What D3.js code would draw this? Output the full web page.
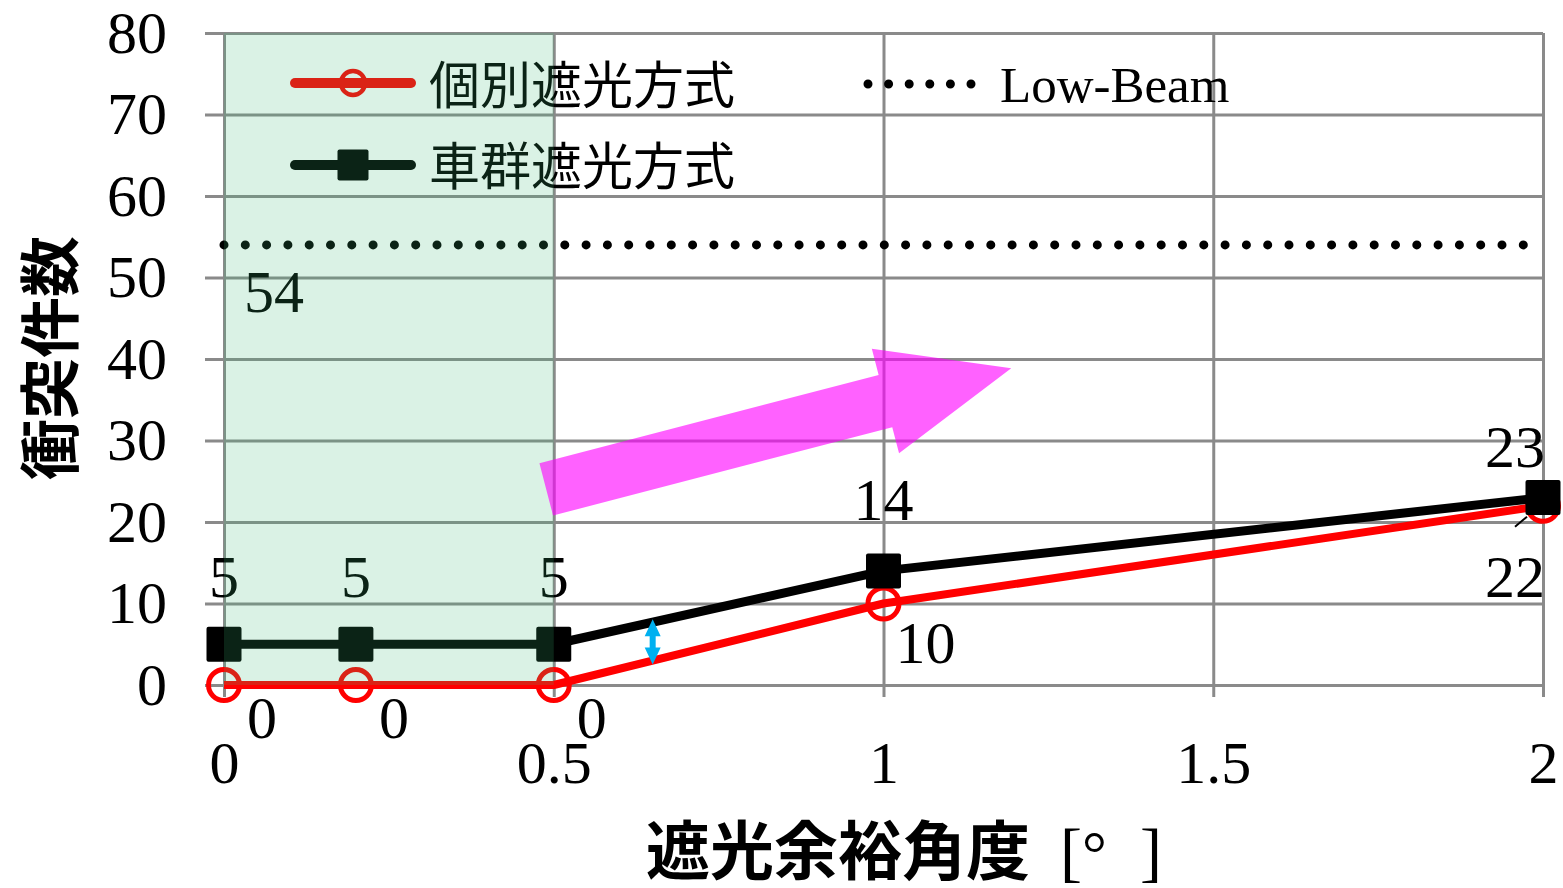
<!DOCTYPE html>
<html>
<head>
<meta charset="utf-8">
<script src="https://cdn.jsdelivr.net/npm/d3@7"></script>
<style>
  html, body { margin: 0; padding: 0; background: #fff; }
  svg { display: block; }
</style>
</head>
<body>
<svg id="chart" width="1563" height="888"></svg>
<script>
// Shading margin angle (degrees) vs. number of collisions
const angles = [0, 0.2, 0.5, 1, 2];
const individualShading = [0, 0, 0, 10, 22];   // 個別遮光方式
const groupShading = [5, 5, 5, 14, 23];        // 車群遮光方式
const lowBeam = 54;                            // Low-Beam reference
const yTicks = [0, 10, 20, 30, 40, 50, 60, 70, 80];
const xTicks = [0, 0.5, 1, 1.5, 2];
const seriesNames = ["個別遮光方式", "車群遮光方式", "Low-Beam"];
const highlightRange = [0, 0.5];

const SERIF = "'Liberation Serif', 'Times New Roman', serif";
const GOTHIC = "'Noto Sans CJK JP', 'Noto Sans', sans-serif";

const svg = d3.select("#chart");
const x = d3.scaleLinear().domain([0, 2]).range([224, 1543]);
const y = d3.scaleLinear().domain([0, 80]).range([685, 33]);

const gridColor = "#8a8a8a";

// Horizontal gridlines (extend a little to the left of the plot as ticks)
const yAxis = svg.append("g")
  .attr("transform", "translate(205,0)")
  .call(d3.axisLeft(y).tickValues(yTicks).tickFormat(d3.format("d"))
    .tickSizeInner(-(x(2) - 205)).tickSizeOuter(0).tickPadding(38));
yAxis.select(".domain").remove();
yAxis.selectAll(".tick line").attr("stroke", gridColor).attr("stroke-width", 3);
yAxis.selectAll(".tick text").attr("font-family", SERIF).attr("font-size", 60).attr("fill", "#000");

// Vertical gridlines (extend a little below the plot)
const xAxis = svg.append("g")
  .attr("transform", "translate(0,697)")
  .call(d3.axisBottom(x).tickValues(xTicks).tickFormat(d => d3.format("")(d))
    .tickSizeInner(-(697 - y(80))).tickSizeOuter(0).tickPadding(43));
xAxis.select(".domain").remove();
xAxis.selectAll(".tick line").attr("stroke", gridColor).attr("stroke-width", 3);
xAxis.selectAll(".tick text").attr("font-family", SERIF).attr("font-size", 60).attr("fill", "#000");

// Low-Beam dotted reference line
svg.append("line")
  .attr("x1", x(0)).attr("x2", x(2))
  .attr("y1", y(lowBeam)).attr("y2", y(lowBeam))
  .attr("stroke", "#000").attr("stroke-width", 9)
  .attr("stroke-linecap", "round").attr("stroke-dasharray", "0 21.3");

const line = d3.line().x(d => x(d[0])).y(d => y(d[1]));
const redPts = angles.map((a, i) => [a, individualShading[i]]);
const blkPts = angles.map((a, i) => [a, groupShading[i]]);

// Individual shading series: red line with open circles
svg.append("path").datum(redPts).attr("d", line)
  .attr("fill", "none").attr("stroke", "#ff0000").attr("stroke-width", 8)
  .attr("stroke-linejoin", "round");
svg.append("g").selectAll("circle").data(redPts).join("circle")
  .attr("cx", d => x(d[0])).attr("cy", d => y(d[1])).attr("r", 15.5)
  .attr("fill", "none").attr("stroke", "#ff0000").attr("stroke-width", 5);

// Group shading series: black line with filled squares
svg.append("path").datum(blkPts).attr("d", line)
  .attr("fill", "none").attr("stroke", "#000").attr("stroke-width", 9)
  .attr("stroke-linejoin", "round");
svg.append("g").selectAll("rect").data(blkPts).join("rect")
  .attr("x", d => x(d[0]) - 17.5).attr("y", d => y(d[1]) - 17.5)
  .attr("width", 35).attr("height", 35).attr("rx", 2)
  .attr("fill", "#000");

// Value labels
const labels = svg.append("g").attr("font-family", SERIF).attr("font-size", 60).attr("fill", "#000");
blkPts.forEach(d => {
  const last = d[0] === 2;
  labels.append("text")
    .attr("x", last ? x(d[0]) + 2 : x(d[0]))
    .attr("y", y(d[1]) - (last ? 31 : (d[1] > 10 ? 51 : 47)))
    .attr("text-anchor", last ? "end" : "middle")
    .text(d[1]);
});
redPts.forEach(d => {
  const last = d[0] === 2;
  labels.append("text")
    .attr("x", last ? x(d[0]) + 2 : x(d[0]) + (d[1] === 0 ? 38 : 42))
    .attr("y", y(d[1]) + (last ? 91 : (d[1] === 0 ? 53 : 59)))
    .attr("text-anchor", last ? "end" : "middle")
    .text(d[1]);
});
// leader for the last red label
{
  const p = redPts[redPts.length - 1];
  svg.append("line")
    .attr("x1", x(p[0]) - 28).attr("y1", y(p[1]) + 21)
    .attr("x2", x(p[0]) - 16).attr("y2", y(p[1]) + 11)
    .attr("stroke", "#000").attr("stroke-width", 2);
}
labels.append("text").attr("x", x(0.076)).attr("y", y(lowBeam) + 67)
  .attr("text-anchor", "middle").text(lowBeam);

// Legend
const lg = svg.append("g");
lg.append("line").attr("x1", 295).attr("x2", 411).attr("y1", 83).attr("y2", 83)
  .attr("stroke", "#ff0000").attr("stroke-width", 10).attr("stroke-linecap", "round");
lg.append("circle").attr("cx", 353).attr("cy", 83).attr("r", 12)
  .attr("fill", "none").attr("stroke", "#ff0000").attr("stroke-width", 4.5);
lg.append("text").attr("x", 429).attr("y", 82).attr("dominant-baseline", "central")
  .attr("font-family", GOTHIC).attr("font-size", 51).text(seriesNames[0]);

lg.append("line").attr("x1", 295).attr("x2", 411).attr("y1", 165).attr("y2", 165)
  .attr("stroke", "#000").attr("stroke-width", 10).attr("stroke-linecap", "round");
lg.append("rect").attr("x", 353 - 15.5).attr("y", 165 - 15.5).attr("width", 31).attr("height", 31)
  .attr("rx", 2).attr("fill", "#000");
lg.append("text").attr("x", 429).attr("y", 163).attr("dominant-baseline", "central")
  .attr("font-family", GOTHIC).attr("font-size", 51).text(seriesNames[1]);

lg.append("line").attr("x1", 868).attr("x2", 976).attr("y1", 84).attr("y2", 84)
  .attr("stroke", "#000").attr("stroke-width", 9)
  .attr("stroke-linecap", "round").attr("stroke-dasharray", "0 20.6");
lg.append("text").attr("x", 1000).attr("y", 85).attr("dominant-baseline", "central")
  .attr("font-family", SERIF).attr("font-size", 51).text(seriesNames[2]);

// Highlighted angle range (translucent green band over the plot)
svg.append("rect")
  .attr("x", x(highlightRange[0])).attr("y", y(80))
  .attr("width", x(highlightRange[1]) - x(highlightRange[0]))
  .attr("height", y(0) - y(80))
  .attr("fill", "rgb(60,185,115)").attr("fill-opacity", 0.19);

// Trend arrow (magenta block arrow)
{
  const p0 = [x(0.4886), y(24.0)];
  const p1 = [x(1.1937), y(38.86)];
  const L = Math.hypot(p1[0] - p0[0], p1[1] - p0[1]);
  const ang = Math.atan2(p1[1] - p0[1], p1[0] - p0[0]) * 180 / Math.PI;
  const sw = 27, hw = 54, hl = 130;
  const pts = [[0, -sw], [L - hl, -sw], [L - hl, -hw], [L, 0], [L - hl, hw], [L - hl, sw], [0, sw]];
  svg.append("polygon")
    .attr("points", pts.map(p => p.join(",")).join(" "))
    .attr("transform", `translate(${p0[0]},${p0[1]}) rotate(${ang})`)
    .attr("fill", "#ff00ff").attr("fill-opacity", 0.62);
}

// Gap indicator (cyan double-headed arrow) between the two series
{
  const ax = 0.65;
  const interp = (pts) => {
    const i = d3.bisector(d => d[0]).right(pts, ax) - 1;
    const a = pts[i], b = pts[i + 1];
    return a[1] + (b[1] - a[1]) * (ax - a[0]) / (b[0] - a[0]);
  };
  const top = y(interp(blkPts)) - 3, bot = y(interp(redPts)) + 4, cx = x(ax);
  const hw = 8, hl = 17, sw = 3;
  const pts = [[cx, top], [cx + hw, top + hl], [cx + sw, top + hl], [cx + sw, bot - hl],
    [cx + hw, bot - hl], [cx, bot], [cx - hw, bot - hl], [cx - sw, bot - hl],
    [cx - sw, top + hl], [cx - hw, top + hl]];
  svg.append("polygon").attr("points", pts.map(p => p.join(",")).join(" "))
    .attr("fill", "#00b0f0");
}

// Axis titles
svg.append("text")
  .attr("transform", "translate(46,358) rotate(-90)")
  .attr("text-anchor", "middle").attr("dominant-baseline", "central")
  .attr("font-family", GOTHIC).attr("font-weight", "bold").attr("font-size", 61)
  .text("衝突件数");

const xt = svg.append("text").attr("x", 646).attr("y", 874)
  .attr("font-family", GOTHIC).attr("font-weight", "bold").attr("font-size", 64);
xt.append("tspan").text("遮光余裕角度");
xt.append("tspan").attr("x", 1060).attr("font-family", SERIF).attr("font-weight", "normal").attr("font-size", 66).text("[");
xt.append("tspan").attr("x", 1082).attr("font-family", SERIF).attr("font-weight", "normal").attr("font-size", 62).text("°");
xt.append("tspan").attr("x", 1140).attr("font-family", SERIF).attr("font-weight", "normal").attr("font-size", 66).text("]");
</script>
</body>
</html>
